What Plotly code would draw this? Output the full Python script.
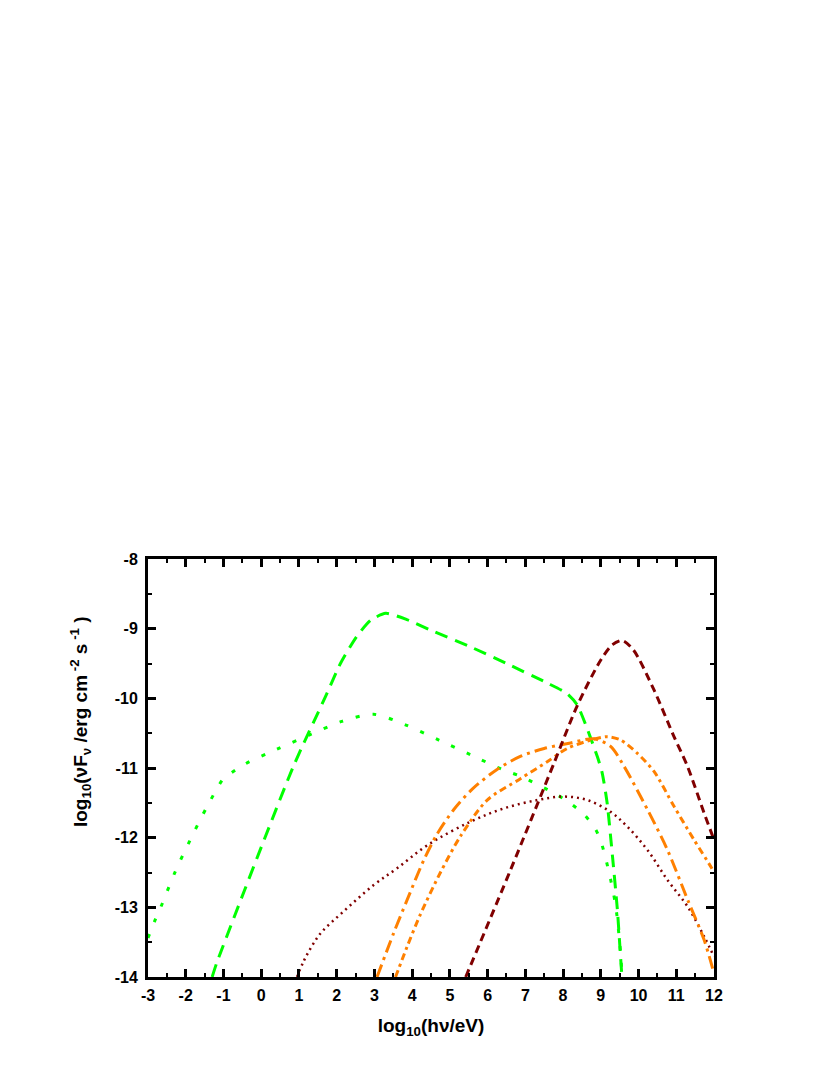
import plotly.graph_objects as go

# green dashed
green_dash_x = [-1.3, -1.18, 0.85, 1.7, 2.1, 2.52, 2.9, 3.3, 3.86, 4.57, 5.5, 6.5, 7.58, 8.1, 8.38, 8.91, 9.04, 9.17, 9.31, 9.44, 9.53, 9.56]
green_dash_y = [-14.0, -13.8, -10.98, -9.98, -9.5, -9.12, -8.88, -8.78, -8.87, -9.04, -9.25, -9.5, -9.78, -9.93, -10.1, -10.84, -11.08, -11.51, -12.27, -13.04, -13.76, -14.0]

# green dotted
green_dot_x = [-3.0, -2.81, -2.64, -2.28, -1.88, -1.44, -1.0, -0.87, -0.42, 0.42, 1.3, 2.14, 2.98, 3.82, 4.71, 5.55, 6.43, 6.88, 7.76, 8.12, 8.56, 8.87, 9.04, 9.26, 9.4, 9.53, 9.56]
green_dot_y = [-13.44, -13.18, -12.97, -12.49, -12.03, -11.56, -11.15, -11.1, -10.94, -10.73, -10.52, -10.33, -10.23, -10.38, -10.6, -10.81, -11.03, -11.12, -11.36, -11.48, -11.67, -11.89, -12.12, -12.6, -13.0, -13.7, -14.0]

# dark red dashed
red_dash_x = [5.42, 6.61, 7.76, 8.38, 9.0, 9.31, 9.57, 9.87, 10.41, 10.94, 11.3, 11.74, 12.0]
red_dash_y = [-14.0, -12.46, -10.93, -10.1, -9.45, -9.23, -9.17, -9.31, -9.88, -10.55, -10.98, -11.65, -12.03]

# dark red dotted
red_dot_x = [0.95, 1.12, 1.35, 1.61, 2.14, 2.98, 3.6, 4.4, 5.55, 6.43, 7.32, 8.02, 8.64, 9.26, 9.7, 10.24, 10.77, 11.3, 11.74, 12.0]
red_dot_y = [-14.0, -13.78, -13.55, -13.35, -13.08, -12.68, -12.44, -12.11, -11.77, -11.58, -11.46, -11.41, -11.46, -11.63, -11.84, -12.18, -12.61, -12.99, -13.42, -13.71]

# orange, long dash-dot
orange_a_x = [3.07, 3.51, 3.87, 4.31, 4.66, 5.1, 5.6, 6.25, 6.88, 7.5, 8.2, 8.82, 9.26, 9.62, 10.24, 10.77, 11.3, 11.74, 12.0]
orange_a_y = [-14.0, -13.37, -12.89, -12.32, -11.95, -11.6, -11.3, -11.02, -10.83, -10.72, -10.64, -10.58, -10.69, -10.98, -11.6, -12.18, -12.89, -13.47, -13.95]

# orange, short dash-dot
orange_b_x = [3.56, 3.87, 4.22, 4.75, 5.28, 5.99, 6.88, 7.58, 8.11, 8.73, 9.17, 9.53, 9.97, 10.41, 10.94, 11.47, 11.92, 12.0]
orange_b_y = [-14.0, -13.56, -13.1, -12.5, -11.98, -11.46, -11.15, -10.91, -10.72, -10.6, -10.55, -10.6, -10.79, -11.05, -11.55, -12.03, -12.42, -12.5]

x_tickvals = list(range(-3, 13))
x_ticktext = ["-3", "-2", "-1", "0", "1", "2", "3", "4", "5", "6", "7", "8", "9", "10", "11", "12"]
y_tickvals = list(range(-14, -7))
y_ticktext = ["-14", "-13", "-12", "-11", "-10", "-9", "-8"]

GREEN = "#00FF00"
ORANGE = "#FF8000"
DARKRED = "#800000"

fig = go.Figure()

def add_curve(x, y, color, dash, width, smoothing=0.8):
    fig.add_trace(go.Scatter(
        x=x, y=y, mode="lines",
        line=dict(color=color, dash=dash, width=width, shape="spline", smoothing=smoothing),
        showlegend=False,
    ))

add_curve(green_dot_x, green_dot_y, GREEN, "4px,13px", 3)
add_curve(green_dash_x, green_dash_y, GREEN, "13px,8px", 3, 0.6)
add_curve(red_dot_x, red_dot_y, DARKRED, "2px,4px", 2.5, 1.0)
add_curve(orange_a_x, orange_a_y, ORANGE, "13px,5px,3px,5px", 3)
add_curve(orange_b_x, orange_b_y, ORANGE, "7px,4px,3px,4px", 3)
add_curve(red_dash_x, red_dash_y, DARKRED, "8px,5px", 3)

font_family = "Liberation Sans, Arial, sans-serif"
tick_font = dict(family=font_family, size=16, color="black", weight="bold")
title_font = dict(family=font_family, size=19, color="black", weight="bold")

axis_common = dict(
    showline=True, linecolor="black", linewidth=3, mirror="allticks",
    ticks="inside", ticklen=8, tickwidth=2.5, tickcolor="black",
    showgrid=False, zeroline=False,
    tickfont=tick_font,
    minor=dict(ticks="inside", ticklen=4, tickwidth=2, tickcolor="black", dtick=0.5),
)

fig.update_xaxes(
    range=[-3, 12], tickvals=x_tickvals, ticktext=x_ticktext,
    ticklabelstandoff=2,
    title=dict(text="log<sub>10</sub>(hν/eV)", font=title_font, standoff=16),
    **axis_common,
)
fig.update_yaxes(
    range=[-14, -8], tickvals=y_tickvals, ticktext=y_ticktext,
    ticklabelstandoff=4,
    **axis_common,
)

# y title as a rotated annotation so it can sit a little above centre, like the original
fig.add_annotation(
    text="log<sub>10</sub>(νF<sub>ν</sub> /erg cm<sup> -2</sup> s<sup> -1</sup> )",
    xref="paper", yref="paper", x=0, y=0.61,
    xshift=-68, xanchor="center", yanchor="middle",
    textangle=-90, showarrow=False, font=title_font,
)

fig.update_layout(
    width=814, height=1059,
    margin=dict(l=140, r=108, t=551, b=90),
    plot_bgcolor="white", paper_bgcolor="white",
)

fig.write_html("out.html")
